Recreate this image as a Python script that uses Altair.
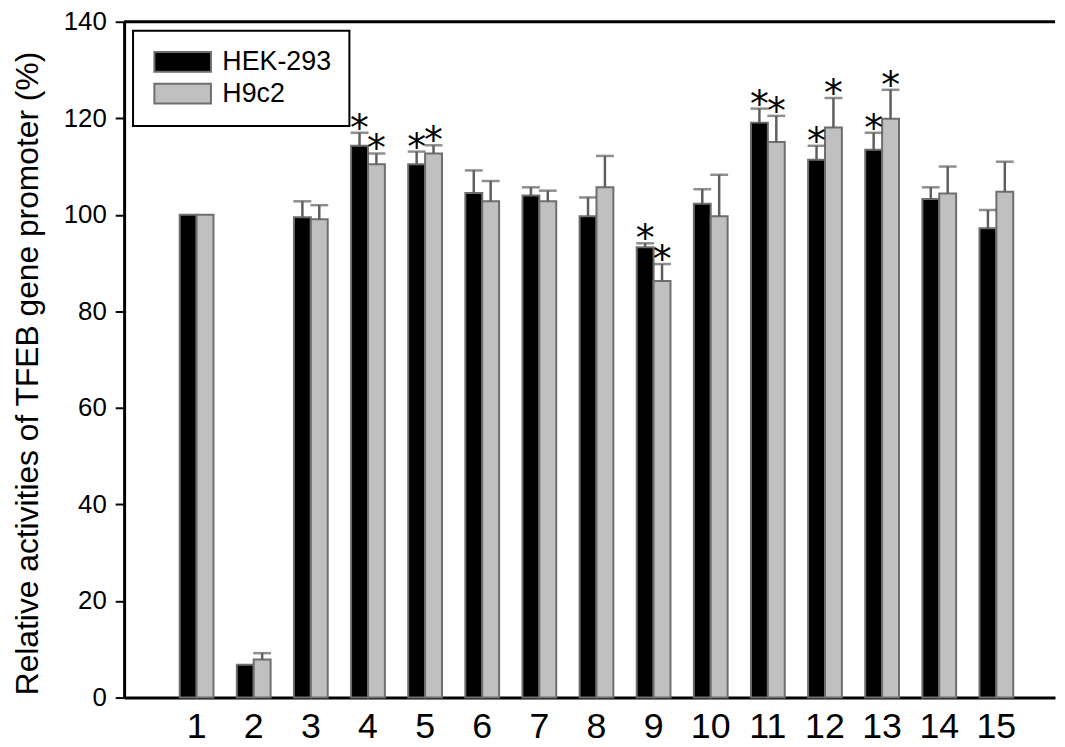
import altair as alt
import pandas as pd

groups = [str(i) for i in range(1, 16)]
series = ["HEK-293", "H9c2"]
hek = [100, 6.8, 99.5, 114.3, 110.5, 104.5, 104.0, 99.7, 93.3, 102.3, 119.1, 111.4, 113.5, 103.3, 97.2]
hek_err = [0, 0, 3.3, 2.7, 2.6, 4.7, 1.7, 3.9, 0.8, 3.0, 2.9, 2.9, 3.5, 2.4, 3.8]
h9 = [100, 7.9, 99.1, 110.5, 112.7, 102.8, 102.8, 105.7, 86.3, 99.7, 115.1, 118.1, 119.9, 104.4, 104.8]
h9_err = [0, 1.3, 2.9, 2.2, 1.7, 4.2, 2.2, 6.5, 3.5, 8.6, 5.4, 6.1, 6.0, 5.6, 6.2]
significant = ["4", "5", "9", "11", "12", "13"]

rows = []
for g, v, e in zip(groups, hek, hek_err):
    rows.append({"group": g, "series": "HEK-293", "value": v, "err": e, "sig": g in significant})
for g, v, e in zip(groups, h9, h9_err):
    rows.append({"group": g, "series": "H9c2", "value": v, "err": e, "sig": g in significant})
df = pd.DataFrame(rows)
df["upper"] = df["value"] + df["err"]

FONT = "Liberation Sans"

x_enc = alt.X(
    "group:N",
    sort=groups,
    scale=alt.Scale(paddingInner=0.4087, paddingOuter=0.852, align=0.571),
    axis=alt.Axis(
        title=None, labelAngle=0, ticks=False, labelFontSize=36, labelPadding=12,
        labelColor="black", labelFont=FONT, domainColor="black", domainWidth=3,
    ),
)
xoff = alt.XOffset("series:N", sort=series, scale=alt.Scale(domain=series))
y_scale = alt.Scale(domain=[0, 140], nice=False)
y_enc = alt.Y(
    "value:Q",
    scale=y_scale,
    axis=alt.Axis(
        title="Relative activities of TFEB gene promoter (%)",
        values=[0, 20, 40, 60, 80, 100, 120, 140],
        grid=False, tickSize=9, tickWidth=2, tickColor="black",
        labelFontSize=26, labelPadding=9, labelColor="black", labelFont=FONT,
        domainColor="black", domainWidth=3,
        titleFontSize=32, titleFontWeight="normal", titleColor="black", titleFont=FONT,
        titleX=-80, titleY=354,
    ),
)

base = alt.Chart(df)

bars = base.mark_bar(stroke="#6e6e6e", strokeWidth=2).encode(
    x=x_enc,
    xOffset=xoff,
    y=y_enc,
    color=alt.Color(
        "series:N",
        sort=series,
        scale=alt.Scale(domain=series, range=["#000000", "#c0c0c0"]),
        legend=alt.Legend(
            title=None, orient="none", legendX=9, legendY=9,
            symbolType="M-1,-1H4.7V1H-1Z", symbolSize=400,
            symbolStrokeColor="#6e6e6e", symbolStrokeWidth=2, symbolOpacity=1,
            labelFontSize=27, labelFont=FONT, labelColor="black", labelOffset=45,
            rowPadding=3, padding=18, strokeColor="black", fillColor="white",
        ),
    ),
)

err_df = base.transform_filter("datum.err > 0")
stems = err_df.mark_rule(color="#5e5e5e", strokeWidth=2.5).encode(
    x=alt.X("group:N", sort=groups),
    xOffset=xoff,
    y=alt.Y("value:Q", scale=y_scale),
    y2="upper:Q",
)
caps = err_df.mark_tick(color="#5e5e5e", thickness=2.5, size=18, orient="horizontal").encode(
    x=alt.X("group:N", sort=groups),
    xOffset=xoff,
    y=alt.Y("upper:Q", scale=y_scale),
)
stars = base.transform_filter("datum.sig").mark_text(
    text="*", fontSize=38, font="DejaVu Sans", color="black", baseline="alphabetic", dy=8
).encode(
    x=alt.X("group:N", sort=groups),
    xOffset=xoff,
    y=alt.Y("upper:Q", scale=y_scale),
)
top_line = alt.Chart(pd.DataFrame({"v": [140]})).mark_rule(color="black", strokeWidth=3).encode(
    y=alt.Y("v:Q", scale=y_scale)
)

chart = alt.layer(bars, stems, caps, stars, top_line).properties(
    width=938, height=681,
    padding={"left": 117, "top": 11, "right": 2, "bottom": 50},
    autosize=alt.AutoSizeParams(type="none"),
).configure_view(strokeWidth=0).configure_legend(strokeWidth=2)

chart.save("out.html", embed_options={"renderer": "svg", "actions": False})
